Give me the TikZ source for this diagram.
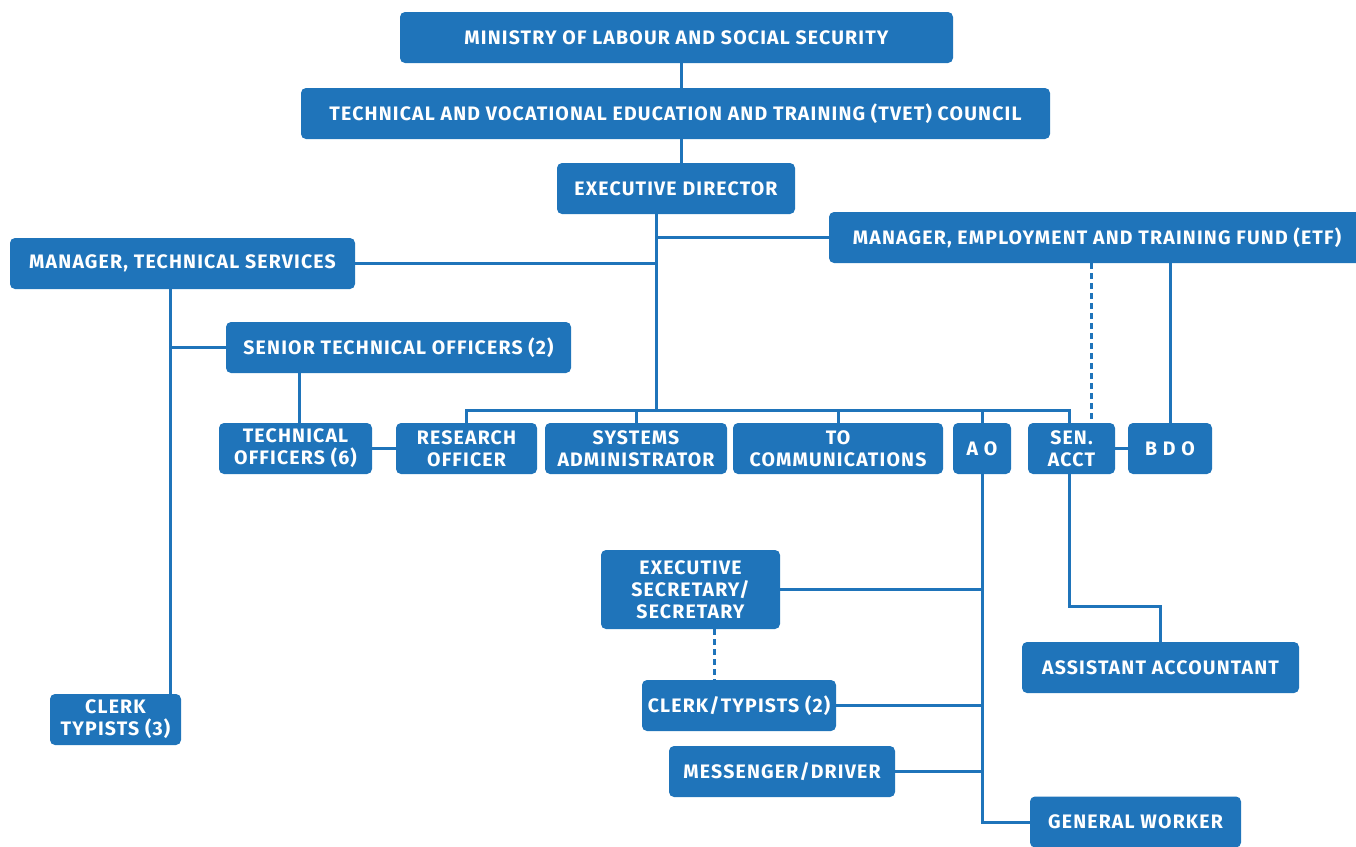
\documentclass[tikz,border=0pt]{standalone}
\usepackage{fontspec}
\setmainfont{Fira Sans}[LetterSpace=6]
\definecolor{orgblue}{RGB}{31,116,186}
\begin{document}
\begin{tikzpicture}[x=1pt,y=-1pt,
  box/.style={fill=orgblue, text=white, rounded corners=5pt, inner sep=0pt,
    font=\bfseries\fontsize{19.5}{22}\selectfont, align=center, minimum height=51pt},
  link/.style={draw=orgblue, line width=3pt},
  dotlink/.style={link, dash pattern=on 6pt off 4pt}]
\useasboundingbox (0,0) rectangle (1356,846);
% nodes
\node[box, minimum width=553pt] (min) at (676.5,37.5) {MINISTRY OF LABOUR AND SOCIAL SECURITY};
\node[box, minimum width=749pt] (tvet) at (675.5,113.5) {TECHNICAL AND VOCATIONAL EDUCATION AND TRAINING (TVET) COUNCIL};
\node[box, minimum width=238pt] (ed) at (676,188.5) {EXECUTIVE DIRECTOR};
\node[box, minimum width=345pt] (mts) at (182.5,263.5) {MANAGER, TECHNICAL SERVICES};
\node[box, minimum width=536pt] (etf) at (1097,237.5) {MANAGER, EMPLOYMENT AND TRAINING FUND (ETF)};
\node[box, minimum width=345pt] (sto) at (398.5,347.5) {SENIOR TECHNICAL OFFICERS (2)};
\node[box, minimum width=153pt] (to6) at (295.5,448.5) {TECHNICAL\\OFFICERS (6)};
\node[box, minimum width=141pt] (ro) at (466.5,448.5) {RESEARCH\\OFFICER};
\node[box, minimum width=182pt] (sa) at (636,448.5) {SYSTEMS\\ADMINISTRATOR};
\node[box, minimum width=210pt] (toc) at (838,448.5) {TO\\COMMUNICATIONS};
\node[box, minimum width=58pt] (ao) at (982,448.5) {A O};
\node[box, minimum width=87pt] (sacct) at (1071.5,448.5) {SEN.\\ACCT};
\node[box, minimum width=84pt] (bdo) at (1170,448.5) {B D O};
\node[box, minimum width=179pt, minimum height=79pt] (es) at (690.5,589.5) {EXECUTIVE\\SECRETARY/\\SECRETARY};
\node[box, minimum width=194pt] (ct2) at (739,705.5) {CLERK/TYPISTS (2)};
\node[box, minimum width=226pt] (md) at (782,771.5) {MESSENGER/DRIVER};
\node[box, minimum width=277pt] (aa) at (1160.5,667.5) {ASSISTANT ACCOUNTANT};
\node[box, minimum width=211pt] (gw) at (1135.5,822) {GENERAL WORKER};
\node[box, minimum width=131pt] (ct3) at (115.5,719.5) {CLERK\\TYPISTS (3)};
% helper coordinates
\coordinate (xtop) at (681,0);
\coordinate (xed) at (656,0);
\coordinate (bus) at (656,410);
\coordinate (xmts) at (170,0);
\coordinate (xsto) at (299,0);
\coordinate (xetf) at (1091,0);
\coordinate (xsen) at (1069,0);
\coordinate (ysen) at (0,606);
\coordinate (xes) at (714,0);
% connectors
\draw[link] (min.south -| xtop) -- (tvet.north -| xtop);
\draw[link] (tvet.south -| xtop) -- (ed.north -| xtop);
\draw[link] (ed.south -| xed) -- (bus);
\draw[link] (etf.west -| xed) -- (etf.west);
\draw[link] (mts.east) -- (mts.east -| xed);
\draw[link] (ro.north) -- (ro.north |- bus) -- (bus -| xsen) -- (sacct.north -| xsen);
\draw[link] (sa.north) -- (sa.north |- bus);
\draw[link] (toc.north) -- (toc.north |- bus);
\draw[link] (ao.north) -- (ao.north |- bus);
\draw[link] (mts.south -| xmts) -- (ct3.north -| xmts);
\draw[link] (sto.west) -- (sto.west -| xmts);
\draw[link] (sto.south -| xsto) -- (to6.north -| xsto);
\draw[link] (to6.east) -- (ro.west);
\draw[dotlink] (etf.south -| xetf) -- (sacct.north -| xetf);
\draw[link] (etf.south -| bdo) -- (bdo.north);
\draw[link] (sacct.east) -- (bdo.west);
\draw[link] (ao.south) -- (ao.south |- gw.west) -- (gw.west);
\draw[link] (es.east) -- (es.east -| ao);
\draw[link] (ct2.east) -- (ct2.east -| ao);
\draw[link] (md.east) -- (md.east -| ao);
\draw[link] (sacct.south -| xsen) -- (ysen -| xsen) -| (aa.north);
\draw[dotlink] (es.south -| xes) -- (ct2.north -| xes);
\end{tikzpicture}
\end{document}
